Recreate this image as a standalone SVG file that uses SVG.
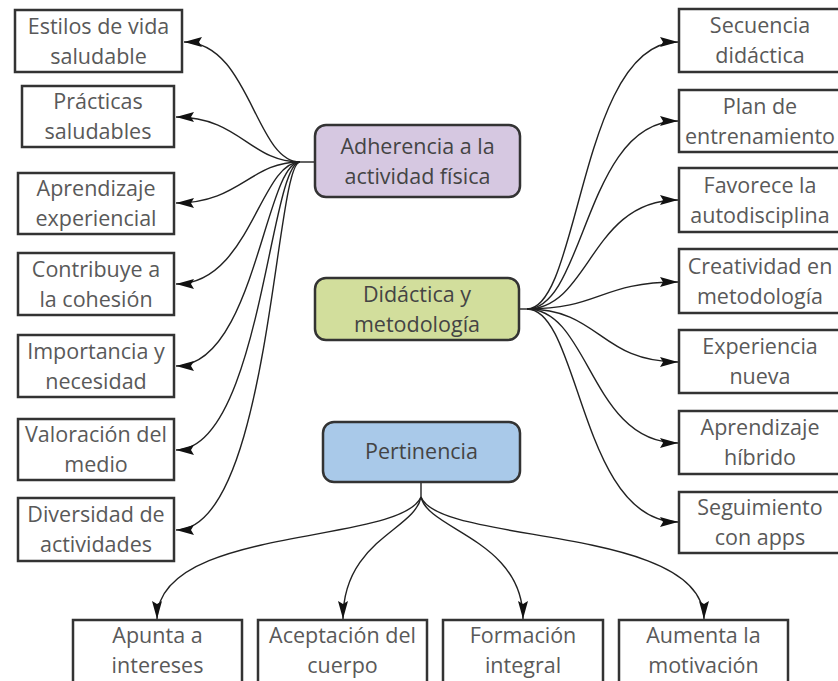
<svg xmlns="http://www.w3.org/2000/svg" width="838" height="681" viewBox="0 0 838 681">
<style>
.leaf rect{fill:#fff;stroke:#333;stroke-width:2.5}
.leaf text{font-family:"Open Sans","Noto Sans",sans-serif;font-size:21.5px;fill:#595959;text-anchor:middle}
.hub rect{stroke:#333;stroke-width:2.5}
.hub text{font-family:"Open Sans","Noto Sans",sans-serif;font-size:21.5px;fill:#444;text-anchor:middle}
.conn path{fill:none;stroke:#222;stroke-width:1.4;marker-end:url(#ah)}
.conn path.stem{marker-end:none}
</style>
<defs>
<marker id="ah" markerUnits="userSpaceOnUse" markerWidth="20" markerHeight="12" refX="18" refY="5" orient="auto">
<path d="M0,0 L18,5 L0,10 L3,5 Z" fill="#111"/>
</marker>
</defs>
<rect width="838" height="681" fill="#fff"/>
<g id="connectors" class="conn">
<path class="stem" d="M316,162 L300,162"/>
<path d="M300,162 C255,162 250,42 184,42"/>
<path d="M300,162 C250,162 240,117 176,117"/>
<path d="M300,162 C250,162 240,203 176,203"/>
<path d="M300,162 C260,162 250,284 176,284"/>
<path d="M300,162 C265,162 255,366 176,366"/>
<path d="M300,162 C270,162 260,450 176,450"/>
<path d="M300,162 C275,162 270,530 176,530"/>
<path class="stem" d="M519,309 L527,309"/>
<path d="M527,309 C580,309 580,42 678,42"/>
<path d="M527,309 C585,309 585,121 678,121"/>
<path d="M527,309 C590,309 590,200 678,200"/>
<path d="M527,309 C600,309 600,282 678,282"/>
<path d="M527,309 C600,309 600,362 678,362"/>
<path d="M527,309 C590,309 590,443 678,443"/>
<path d="M527,309 C580,309 580,522 678,522"/>
<path class="stem" d="M421,482 L421,497"/>
<path d="M421,497 C400,545 157,525 157,619"/>
<path d="M421,497 C415,530 343,540 343,619"/>
<path d="M421,497 C428,530 523,540 523,619"/>
<path d="M421,497 C440,545 704,525 704,619"/>
</g>
<g id="adherencia" class="hub"><rect x="315" y="125" width="205" height="72" rx="11" fill="#d6c8e1"/><text x="417.5" y="154">Adherencia a la</text><text x="417.5" y="184">actividad física</text></g>
<g id="didactica" class="hub"><rect x="315" y="278" width="204" height="62" rx="11" fill="#d2de9c"/><text x="417" y="302">Didáctica y</text><text x="417" y="332">metodología</text></g>
<g id="pertinencia" class="hub"><rect x="323" y="422" width="197" height="60" rx="11" fill="#a9c9e9"/><text x="421.5" y="459">Pertinencia</text></g>
<g id="l1" class="leaf"><rect x="15" y="10" width="167" height="62"/><text x="98.5" y="34">Estilos de vida</text><text x="98.5" y="64">saludable</text></g>
<g id="l2" class="leaf"><rect x="22" y="86" width="152" height="61"/><text x="98" y="109">Prácticas</text><text x="98" y="139">saludables</text></g>
<g id="l3" class="leaf"><rect x="18" y="173" width="156" height="61"/><text x="96" y="196">Aprendizaje</text><text x="96" y="226">experiencial</text></g>
<g id="l4" class="leaf"><rect x="18" y="253" width="156" height="62"/><text x="96" y="277">Contribuye a</text><text x="96" y="307">la cohesión</text></g>
<g id="l5" class="leaf"><rect x="18" y="335" width="156" height="62"/><text x="96" y="359">Importancia y</text><text x="96" y="389">necesidad</text></g>
<g id="l6" class="leaf"><rect x="18" y="419" width="156" height="61"/><text x="96" y="442">Valoración del</text><text x="96" y="472">medio</text></g>
<g id="l7" class="leaf"><rect x="18" y="498" width="156" height="63"/><text x="96" y="522">Diversidad de</text><text x="96" y="552">actividades</text></g>
<g id="r1" class="leaf"><rect x="679" y="9" width="163" height="63"/><text x="760" y="33">Secuencia</text><text x="760" y="63">didáctica</text></g>
<g id="r2" class="leaf"><rect x="679" y="90" width="163" height="62"/><text x="760" y="114">Plan de</text><text x="760" y="144">entrenamiento</text></g>
<g id="r3" class="leaf"><rect x="679" y="168" width="163" height="64"/><text x="760" y="193">Favorece la</text><text x="760" y="223">autodisciplina</text></g>
<g id="r4" class="leaf"><rect x="679" y="249" width="163" height="64"/><text x="760" y="274">Creatividad en</text><text x="760" y="304">metodología</text></g>
<g id="r5" class="leaf"><rect x="679" y="330" width="163" height="63"/><text x="760" y="354">Experiencia</text><text x="760" y="384">nueva</text></g>
<g id="r6" class="leaf"><rect x="679" y="411" width="163" height="63"/><text x="760" y="435">Aprendizaje</text><text x="760" y="465">híbrido</text></g>
<g id="r7" class="leaf"><rect x="679" y="492" width="163" height="61"/><text x="760" y="515">Seguimiento</text><text x="760" y="545">con apps</text></g>
<g id="b1" class="leaf"><rect x="73" y="620" width="169" height="64"/><text x="157.5" y="643">Apunta a</text><text x="157.5" y="673">intereses</text></g>
<g id="b2" class="leaf"><rect x="258" y="620" width="169" height="64"/><text x="342.5" y="643">Aceptación del</text><text x="342.5" y="673">cuerpo</text></g>
<g id="b3" class="leaf"><rect x="443" y="620" width="160" height="64"/><text x="523" y="643">Formación</text><text x="523" y="673">integral</text></g>
<g id="b4" class="leaf"><rect x="619" y="620" width="169" height="64"/><text x="703.5" y="643">Aumenta la</text><text x="703.5" y="673">motivación</text></g>
</svg>
